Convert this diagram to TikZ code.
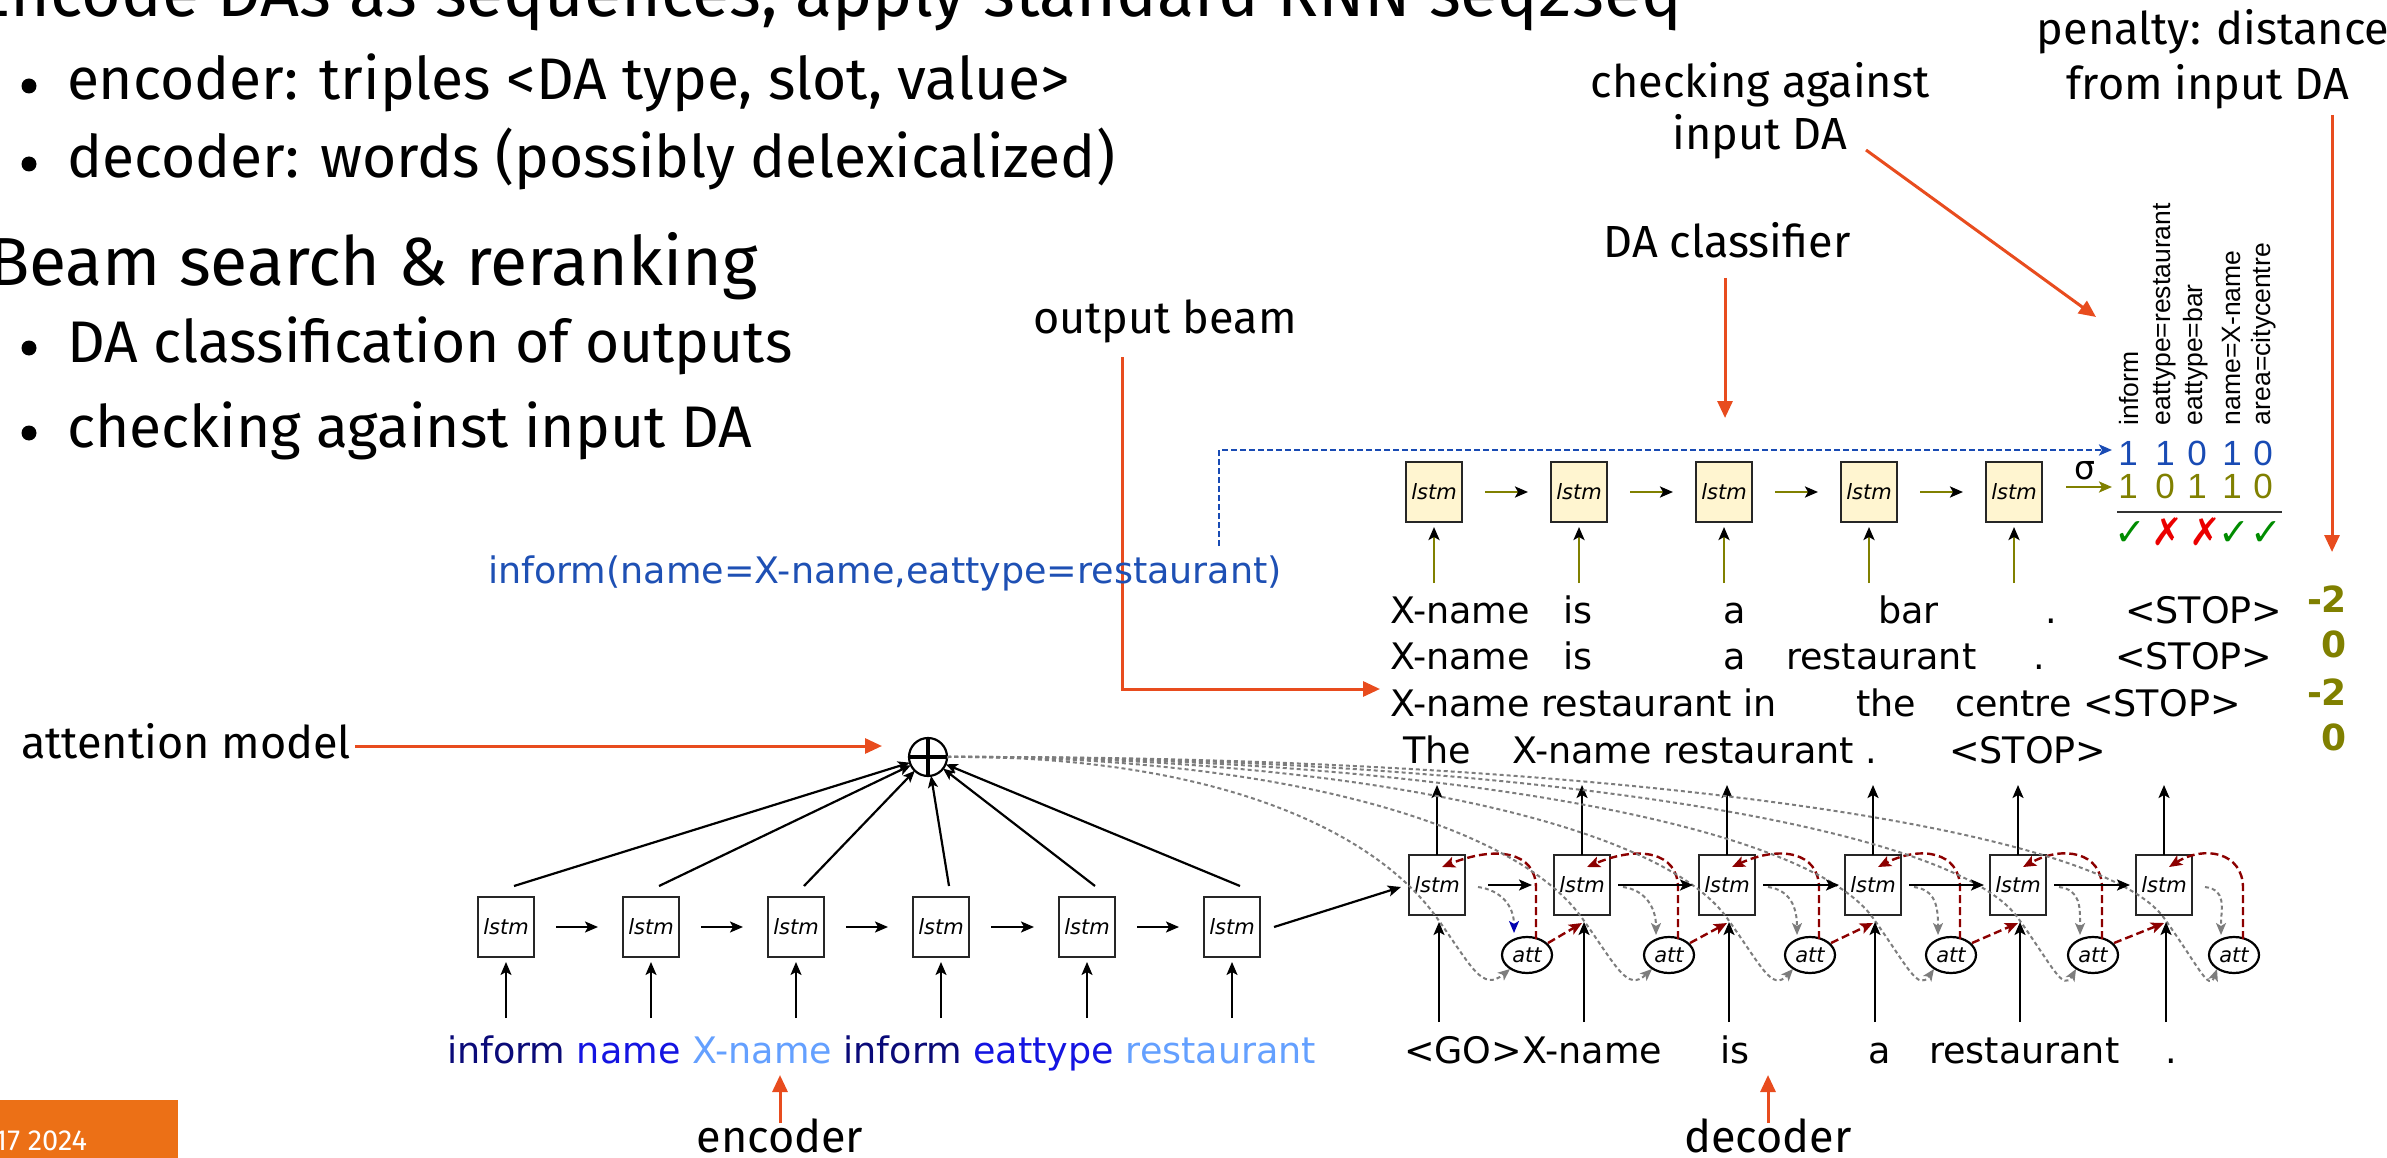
\documentclass[tikz,border=0pt]{standalone}
\usepackage{fontspec}
\setmainfont{Fira Sans}
\newfontfamily\dvfont{DejaVu Sans}
\newfontfamily\arfont{Liberation Sans}
\usetikzlibrary{arrows.meta,calc,shapes.geometric}
\definecolor{cRed}{RGB}{232,76,30}
\definecolor{cDarkRed}{RGB}{140,0,0}
\definecolor{cOlive}{RGB}{128,128,0}
\definecolor{cBlue}{RGB}{25,75,180}
\definecolor{cDABlue}{RGB}{30,80,180}
\definecolor{cGray}{RGB}{125,125,125}
\definecolor{cNavy}{RGB}{10,10,120}
\definecolor{cMid}{RGB}{20,20,225}
\definecolor{cLight}{RGB}{100,160,255}
\definecolor{cGreen}{RGB}{0,140,0}
\definecolor{cX}{RGB}{235,0,0}
\definecolor{cOrange}{RGB}{236,112,22}
\definecolor{cFill}{RGB}{255,245,208}
\begin{document}
\begin{tikzpicture}[x=1pt,y=-1pt,
  every node/.style={inner sep=0pt, outer sep=0pt},
  hdtext/.style={font=\fontsize{68}{78}\selectfont, anchor=base west},
  itemtxt/.style={font=\fontsize{58.7}{68}\selectfont, anchor=base west},
  annot/.style={font=\fontsize{45}{52}\selectfont, anchor=base},
  dvtext/.style={font=\dvfont\fontsize{36.5}{40}\selectfont, anchor=base west},
  lbox/.style={draw=black!85, line width=2.4pt, minimum width=56pt, minimum height=60pt, font=\dvfont\itshape\fontsize{21}{21}\selectfont},
  ybox/.style={lbox, fill=cFill},
  attn/.style={draw=black, line width=2.2pt, ellipse, minimum width=50pt, minimum height=36pt, font=\dvfont\itshape\fontsize{21}{21}\selectfont},
  stl/.style={-{Stealth[length=13pt,width=11pt,inset=3pt]}},
  blk/.style={stl, line width=2.2pt, draw=black},
  blkthin/.style={stl, line width=1.8pt, draw=black},
  ann/.style={-{Triangle[length=17pt,width=15pt]}, line width=3pt, draw=cRed},
  rdash/.style={-{Stealth[length=13pt,width=11pt,inset=3pt]}, line width=2.4pt, draw=cDarkRed, dash pattern=on 8pt off 4pt},
  gdash/.style={-{Stealth[length=12pt,width=10pt,inset=3pt]}, line width=2pt, draw=cGray, dash pattern=on 4pt off 3pt},
  bdash/.style={-{Stealth[length=13pt,width=11pt,inset=3pt]}, line width=2.5pt, draw=cBlue, dash pattern=on 6pt off 3pt},
  oarrow/.style={-{Stealth[length=13pt,width=11pt,inset=3pt,color=black]}, line width=2.8pt, draw=cOlive},
  oarrowo/.style={-{Stealth[length=13pt,width=11pt,inset=3pt]}, line width=2.8pt, draw=cOlive},
  rot/.style={font=\arfont\fontsize{26.5}{26.5}\selectfont, rotate=90, anchor=base west},
  digit/.style={font=\arfont\fontsize{35}{35}\selectfont, anchor=base},
  chk/.style={font=\dvfont\fontsize{38}{38}\selectfont, anchor=base},
  score/.style={font=\dvfont\bfseries\fontsize{36}{36}\selectfont, text=cOlive, anchor=base east}
]
\useasboundingbox (0,0) rectangle (2387,1158);

% ---------------- left slide text
\node[hdtext] (title) at (-25,17) {Encode DAs as sequences, apply standard RNN seq2seq};
\node[itemtxt] (b1) at (67,100) {encoder: triples <DA type, slot, value>};
\node[itemtxt] (b2) at (67,178) {decoder: words (possibly delexicalized)};
\node[hdtext] (beam) at (-12,285) {Beam search \& reranking};
\node[itemtxt] (b3) at (67,362) {DA classification of outputs};
\node[itemtxt] (b4) at (67,447) {checking against input DA};
\foreach \y in {86,164,348,433} \fill (29,\y) circle (7.5pt);

% ---------------- annotations
\node[annot] (lblpen1) at (2213,45) {penalty: distance};
\node[annot] (lblpen2) at (2208,100) {from input DA};
\node[annot] (lblchk1) at (1760,98) {checking against};
\node[annot] (lblchk2) at (1760,150) {input DA};
\node[annot] (lblcls) at (1727,258) {DA classifier};
\node[annot] (lblbeam) at (1165,333) {output beam};
\node[annot, anchor=base west] (lblatt) at (21,758) {attention model};
\node[annot] (lblenc) at (780,1152) {encoder};
\node[annot] (lbldec) at (1768,1152) {decoder};

\coordinate (rp1) at (2332,115); \coordinate (rp2) at (2332,552);
\coordinate (rc1) at (1866,150); \coordinate (rc2) at (2096,317);
\coordinate (rk1) at (1725,278); \coordinate (rk2) at (1725,418);
\coordinate (ro1) at (1122,357); \coordinate (ro2) at (1380,689);
\coordinate (ra1) at (355,746); \coordinate (ra2) at (882,746);
\coordinate (re1) at (780,1123); \coordinate (re2) at (780,1075);
\coordinate (rd1) at (1768,1123); \coordinate (rd2) at (1768,1075);
\draw[ann] (rp1) -- (rp2);
\draw[ann] (rc1) -- (rc2);
\draw[ann] (rk1) -- (rk2);
\draw[ann] (ro1) |- (ro2);
\draw[ann] (ra1) -- (ra2);
\draw[ann] (re1) -- (re2);
\draw[ann] (rd1) -- (rd2);

% ---------------- encoder
\node[circle, draw=black, line width=2.2pt, minimum size=38pt] (plus) at (928,757) {};
\draw[line width=4pt] (plus.west) -- (plus.east);
\draw[line width=4pt] (plus.north) -- (plus.south);

\foreach \i/\bx in {1/506,2/651,3/796,4/941,5/1087,6/1232} {
  \node[lbox] (e\i) at (\bx,927) {lstm};
  \coordinate (ei\i) at (\bx,1018);
  \draw[blkthin] (ei\i) -- ($(e\i.south)+(0,5)$);
  \draw[-{Stealth[length=12pt,width=10pt,inset=3pt]}, line width=2.2pt] ($(e\i.north)+(8,-11)$) -- (plus);
}
\foreach \i/\j in {1/2,2/3,3/4,4/5,5/6}
  \draw[blk, shorten <=22pt, shorten >=25pt] (e\i.east) -- (e\j.west);

\node[dvtext] (enctext) at (447,1063) {\color{cNavy}inform \color{cMid}name \color{cLight}X-name \color{cNavy}inform \color{cMid}eattype \color{cLight}restaurant};

% ---------------- decoder
\foreach \i/\bx/\ax in {1/1437/1527,2/1582/1669,3/1727/1810,4/1873/1951,5/2018/2093,6/2164/2234} {
  \node[lbox] (d\i) at (\bx,885) {lstm};
  \node[attn] (a\i) at (\ax,955) {att};
  \coordinate (dout\i) at (\bx,785);
  \coordinate (din\i) at (\bx+2,1022);
}
\draw[blk] ($(e6.east)+(14,0)$) -- ($(d1.west)+(-8,2)$);

\foreach \i/\bx/\ax in {1/1437/1527,2/1582/1669,3/1727/1810,4/1873/1951,5/2018/2093,6/2164/2234} {
  % attention curves from the sum node
  \draw[gdash] (plus.east) .. controls ({(947+\bx)/2},755) and (\bx-70,820) .. (\bx,918)
        .. controls (\bx+35,967) and (\bx+45,992) .. ($(a\i)+(-17,14)$);
  \draw[blk] (d\i.north) -- (dout\i);
  \draw[blk] (din\i) -- ($(d\i.south)+(2,7)$);
  \draw[rdash] ($(a\i)+(9,-16)$) -- ($(a\i)+(9,-67)$) .. controls ($(a\i)+(9,-103)$) and ($(a\i)+(-30,-110)$) .. ($(d\i.north)+(5,12)$);
}
\draw[gdash, -{Stealth[length=12pt,width=10pt,inset=3pt,color=blue!70!black]}] ($(d1.east)+(13,2)$) .. controls +(22,3) and +(0,-28) .. ($(a1)+(-13,-22)$);
\foreach \i in {2,...,6}
  \draw[gdash] ($(d\i.east)+(13,2)$) .. controls +(22,3) and +(0,-28) .. ($(a\i)+(-13,-20)$);
\foreach \i/\j in {1/2,2/3,3/4,4/5,5/6}
  \draw[rdash] ($(a\i)+(21,-12)$) -- ($(d\j.south)+(0,8)$);
\draw[blk, shorten <=23pt, shorten >=22pt] (d1.east) -- (d2.west);
\foreach \i/\j in {2/3,3/4,4/5,5/6}
  \draw[blk, shorten <=8pt, shorten >=6pt] (d\i.east) -- (d\j.west);

% decoder input words
\node[dvtext] (w1) at (1404,1063) {<GO>X-name};
\node[dvtext] (w2) at (1720,1063) {is};
\node[dvtext] (w3) at (1868,1063) {a};
\node[dvtext] (w4) at (1929,1063) {restaurant};
\node[dvtext] (w5) at (2165,1063) {.};

% ---------------- beam
\node[dvtext] (l1a) at (1390,623) {X-name};
\node[dvtext] (l1b) at (1563,623) {is};
\node[dvtext] (l1c) at (1723,623) {a};
\node[dvtext] (l1d) at (1878,623) {bar};
\node[dvtext] (l1e) at (2045,623) {.};
\node[dvtext] (l1f) at (2125,623) {<STOP>};
\node[dvtext] (l2a) at (1390,669) {X-name};
\node[dvtext] (l2b) at (1563,669) {is};
\node[dvtext] (l2c) at (1723,669) {a};
\node[dvtext] (l2d) at (1786,669) {restaurant};
\node[dvtext] (l2e) at (2033,669) {.};
\node[dvtext] (l2f) at (2115,669) {<STOP>};
\node[dvtext] (l3a) at (1390,716) {X-name restaurant in};
\node[dvtext] (l3b) at (1856,716) {the};
\node[dvtext] (l3c) at (1955,716) {centre <STOP>};
\node[dvtext] (l4a) at (1403,763) {The};
\node[dvtext] (l4b) at (1512,763) {X-name restaurant .};
\node[dvtext] (l4c) at (1949,763) {<STOP>};

\node[score] (s1) at (2347,612) {-2};
\node[score] (s2) at (2347,657) {0};
\node[score] (s3) at (2347,705) {-2};
\node[score] (s4) at (2347,750) {0};

\node[dvtext, text=cDABlue, anchor=base west] (da) at (488,583) {inform(name=X-name,eattype=restaurant)};

% ---------------- classifier
\foreach \i/\bx in {1/1434,2/1579,3/1724,4/1869,5/2014} {
  \node[ybox] (k\i) at (\bx,492) {lstm};
  \coordinate (kin\i) at (\bx,583);
  \draw[oarrow] (kin\i) -- ($(k\i.south)+(0,5)$);
}
\foreach \i/\j in {1/2,2/3,3/4,4/5}
  \draw[oarrow, shorten <=23pt, shorten >=23pt] (k\i.east) -- (k\j.west);

\coordinate (sg1) at (2066,487); \coordinate (sg2) at (2112,487);
\draw[oarrowo] (sg1) -- (sg2);
\node[font=\dvfont\fontsize{33}{33}\selectfont, anchor=base] (sigma) at (2085,479) {σ};

\coordinate (bd1) at (1219,546); \coordinate (bd2) at (2112,450);
\draw[bdash] (bd1) |- (bd2);

\node[rot] (c1) at (2138,425) {inform};
\node[rot] (c2) at (2170,425) {eattype=restaurant};
\node[rot] (c3) at (2202,425) {eattype=bar};
\node[rot] (c4) at (2240,425) {name=X-name};
\node[rot] (c5) at (2270,425) {area=citycentre};

\foreach \i/\x/\u/\v in {1/2128/1/1,2/2165/1/0,3/2197/0/1,4/2232/1/1,5/2263/0/0} {
  \node[digit, text=cBlue] (u\i) at (\x,465) {\u};
  \node[digit, text=cOlive] (v\i) at (\x,498) {\v};
}
\coordinate (hl1) at (2117,512); \coordinate (hl2) at (2282,512);
\draw[line width=2.5pt, black!80] (hl1) -- (hl2);
\node[chk, text=cGreen] (m1) at (2130,545) {✓};
\node[chk, text=cX] (m2) at (2167,545) {✗};
\node[chk, text=cX] (m3) at (2205,545) {✗};
\node[chk, text=cGreen] (m4) at (2234,545) {✓};
\node[chk, text=cGreen] (m5) at (2266,545) {✓};

% ---------------- footer
\fill[cOrange] (0,1100) rectangle (178,1160);
\node[anchor=base east, text=white, font=\fontsize{29}{29}\selectfont] (date) at (87,1150) {17 2024};
\end{tikzpicture}
\end{document}
